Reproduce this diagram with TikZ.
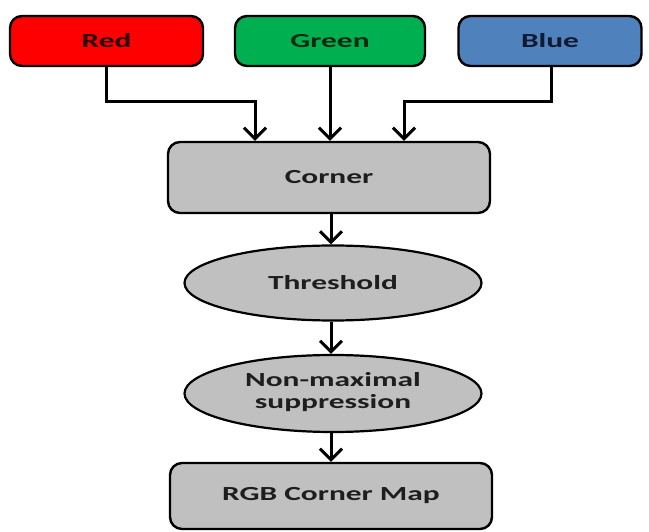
\documentclass[tikz,border=0pt]{standalone}
\usepackage{fontspec}
\setmainfont{Carlito}
\usetikzlibrary{shapes.geometric,arrows.meta}
\definecolor{cred}{HTML}{FF0000}
\definecolor{cgreen}{HTML}{00B050}
\definecolor{cblue}{HTML}{4F81BD}
\definecolor{cgray}{HTML}{C0C0C0}
\definecolor{tred}{HTML}{2A0505}
\definecolor{tgreen}{HTML}{052A10}
\definecolor{tblue}{HTML}{101A30}
\definecolor{tgray}{HTML}{1E1E1E}
\newcommand{\wide}[1]{\scalebox{1.57}[1]{#1}}
\tikzset{
  box/.style={draw=black, line width=2.4pt, rounded corners=12pt, inner sep=0pt,
    font=\fontsize{20}{22}\selectfont\bfseries, text=tgray},
  oval/.style={ellipse, draw=black, line width=2.2pt, fill=cgray, inner sep=0pt,
    font=\fontsize{20}{22}\selectfont\bfseries, text=tgray},
  conn/.style={line width=3pt, -{Straight Barb[length=11pt,width=22pt,line width=3pt]}}
}
\begin{document}
\begin{tikzpicture}[x=1pt,y=-1pt]
\useasboundingbox (0,0) rectangle (649,532);
\node[box, fill=cred, text=tred, minimum width=193pt, minimum height=50pt] (red) at (106.5,41) {\wide{Red}};
\node[box, fill=cgreen, text=tgreen, minimum width=190pt, minimum height=50pt] (green) at (330,41) {\wide{Green}};
\node[box, fill=cblue, text=tblue, minimum width=183pt, minimum height=50pt] (blue) at (550,41) {\wide{Blue}};
\node[box, fill=cgray, minimum width=322pt, minimum height=71pt] (corner) at (329,177.5) {\wide{Corner}};
\node[oval, minimum width=297pt, minimum height=75pt] (thr) at (333,283) {\wide{Threshold}};
\node[oval, minimum width=297pt, minimum height=77pt] (nms) at (333,393.5) {\wide{\begin{tabular}{@{}c@{}}Non-maximal\\suppression\end{tabular}}};
\node[box, fill=cgray, minimum width=322pt, minimum height=66pt] (rgb) at (331,496) {\wide{RGB Corner Map}};
\coordinate (rk) at (106.5,102);
\coordinate (bk) at (551,102);
\draw[conn, line join=miter] (red.south) -- (rk) -| (corner.north -| 255,0);
\draw[conn] (green.south -| 330,0) -- (corner.north -| 330,0);
\draw[conn, line join=miter] (blue.south -| 551,0) -- (bk) -| (corner.north -| 404,0);
\draw[conn] (corner.south -| 331,0) -- (thr.north -| 331,0);
\draw[conn] (thr.south -| 331,0) -- (nms.north -| 331,0);
\draw[conn] (nms.south -| 331,0) -- (rgb.north -| 331,0);
\end{tikzpicture}
\end{document}
